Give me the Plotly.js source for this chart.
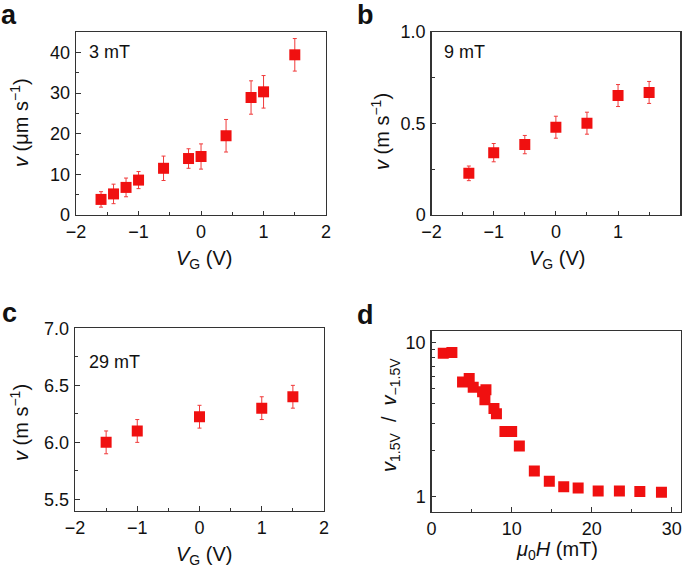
<!DOCTYPE html>
<html><head><meta charset="utf-8">
<script src="https://cdn.plot.ly/plotly-3.0.1.min.js"></script>
<style>html,body{margin:0;padding:0;background:#fff}#chart{width:685px;height:572px}</style>
</head><body><div id="chart"></div>
<script>
// Panel a: 3 mT
const aVg  = [-1.6, -1.4, -1.2, -1.0, -0.6, -0.2, 0.0, 0.4, 0.8, 1.0, 1.5];
const aV   = [3.85, 5.2, 6.8, 8.6, 11.5, 13.9, 14.4, 19.5, 28.9, 30.3, 39.4];
const aErr = [1.9, 2.4, 2.3, 2.1, 3.0, 2.4, 3.1, 4.0, 4.1, 4.0, 4.0];
// Panel b: 9 mT
const bVg  = [-1.4, -1.0, -0.5, 0.0, 0.5, 1.0, 1.5];
const bV   = [0.228, 0.341, 0.385, 0.48, 0.502, 0.653, 0.67];
const bErr = [0.04, 0.05, 0.05, 0.06, 0.06, 0.06, 0.06];
// Panel c: 29 mT
const cVg  = [-1.5, -1.0, 0.0, 1.0, 1.5];
const cV   = [6.0, 6.1, 6.225, 6.3, 6.4];
const cErr = [0.1, 0.1, 0.1, 0.1, 0.1];
// Panel d: ratio vs field
const dH     = [1.46, 2.54, 3.87, 4.7, 5.2, 6.37, 6.79, 6.66, 7.79, 8.1, 9.16, 10.0, 10.96, 12.83, 14.7, 16.5, 18.3, 20.8, 23.45, 26.0, 28.7];
const dRatio = [8.5, 8.58, 5.54, 5.82, 5.12, 4.79, 4.92, 4.24, 3.72, 3.44, 2.64, 2.64, 2.13, 1.47, 1.26, 1.16, 1.14, 1.09, 1.09, 1.08, 1.07];
// tick labels
const yTicksB = ['0', '0.5', '1.0'];
const yTicksD = ['1', '10'];

const RED = '#f01010';
const ERRC = '#f03a3a';
const FONT = 'Liberation Sans, Arial, sans-serif';
const TICK = 18;
const TITLE = 20;

function pts(x, y, err, xa, ya) {
  const t = {x: x, y: y, xaxis: xa, yaxis: ya, type: 'scatter', mode: 'markers',
    marker: {symbol: 'square', size: 11, color: RED}, showlegend: false, hoverinfo: 'skip'};
  if (err) t.error_y = {type: 'data', array: err, visible: true, color: ERRC, thickness: 1, width: 2};
  return t;
}

const data = [
  pts(aVg, aV, aErr, 'x', 'y'),
  pts(bVg, bV, bErr, 'x2', 'y2'),
  pts(cVg, cV, cErr, 'x3', 'y3'),
  pts(dH, dRatio, null, 'x4', 'y4')
];

function minor(extra) {
  return Object.assign({ticks: 'inside', ticklen: 3, tickwidth: 1, tickcolor: '#333', showgrid: false}, extra);
}
function ax(extra) {
  return Object.assign({
    showgrid: false, zeroline: false, showline: true, linecolor: '#333', linewidth: 1.3,
    mirror: true, ticks: 'inside', ticklen: 4.5, tickwidth: 1, tickcolor: '#333',
    ticklabelstandoff: 1,
    tickfont: {family: FONT, size: TICK, color: '#111'},
    fixedrange: true
  }, extra);
}

const layout = {
  width: 685, height: 572,
  margin: {l: 0, r: 0, t: 0, b: 0},
  paper_bgcolor: '#fff', plot_bgcolor: '#fff',
  font: {family: FONT, color: '#111'},
  xaxis:  ax({domain: [0.111, 0.476], range: [-2, 2], dtick: 1, minor: minor({dtick: 0.5}), anchor: 'y', ticklabelstandoff: 0}),
  yaxis:  ax({domain: [0.624, 0.944], range: [0, 45], dtick: 10, minor: minor({dtick: 5}), anchor: 'x'}),
  xaxis2: ax({domain: [0.630, 0.993], range: [-2, 2], dtick: 1, minor: minor({dtick: 0.5}), anchor: 'y2', ticklabelstandoff: 0}),
  yaxis2: ax({domain: [0.624, 0.944], range: [0, 1], minor: minor({dtick: 0.25}), anchor: 'x2',
              tickvals: [0, 0.5, 1.0], ticktext: yTicksB}),
  xaxis3: ax({domain: [0.1095, 0.473], range: [-2, 2], dtick: 1, minor: minor({dtick: 0.5}), anchor: 'y3', ticklabelstandoff: 0}),
  yaxis3: ax({domain: [0.107, 0.426], range: [5.4, 7.0], dtick: 0.5, tickformat: '.1f', minor: minor({dtick: 0.25}), anchor: 'x3'}),
  xaxis4: ax({domain: [0.630, 0.9937], range: [0, 31.1], dtick: 10, minor: minor({dtick: 5}), anchor: 'y4', ticklabelstandoff: 0}),
  yaxis4: ax({domain: [0.1054, 0.4213], type: 'log', range: [-0.097, 1.073], tickvals: [1, 10], ticktext: yTicksD,
              minor: minor({tickvals: [2, 3, 4, 5, 6, 7, 8, 9]}), anchor: 'x4'}),
  annotations: []
};

function txt(text, x, y, size, opts) {
  layout.annotations.push(Object.assign({
    text: text, x: x / 685, y: 1 - y / 572, xref: 'paper', yref: 'paper',
    showarrow: false, xanchor: 'center', yanchor: 'middle',
    font: {family: FONT, size: size, color: '#111'}
  }, opts || {}));
}

// panel letters
txt('<b>a</b>', 9, 15, 27);
txt('<b>b</b>', 365, 15, 27);
txt('<b>c</b>', 9, 313, 27);
txt('<b>d</b>', 365, 315, 27);

// inner field labels
txt('3 mT', 87, 52, 18, {xanchor: 'left'});
txt('9 mT', 442, 52, 18, {xanchor: 'left'});
txt('29 mT', 87, 362, 18, {xanchor: 'left'});

// x titles
const vg = '<i>V</i><sub>G</sub> (V)';
txt(vg, 204, 259, TITLE);
txt(vg, 557, 259, TITLE);
txt(vg, 204, 555, TITLE);
txt('<i>μ</i><sub>0</sub><i>H</i> (mT)', 557, 550, TITLE);

// y titles
txt('<i>v</i> (μm s<sup>−1</sup>)', 20, 123, TITLE, {textangle: -90});
txt('<i>v</i> (m s<sup>−1</sup>)', 380, 132, TITLE, {textangle: -90});
txt('<i>v</i> (m s<sup>−1</sup>)', 19, 423, TITLE, {textangle: -90});
txt('<i>v</i><sub>1.5V</sub>  /  <i>v</i><sub>−1.5V</sub>', 390, 415, TITLE, {textangle: -90});

Plotly.newPlot('chart', data, layout, {staticPlot: true, displayModeBar: false});
</script>
</body></html>
